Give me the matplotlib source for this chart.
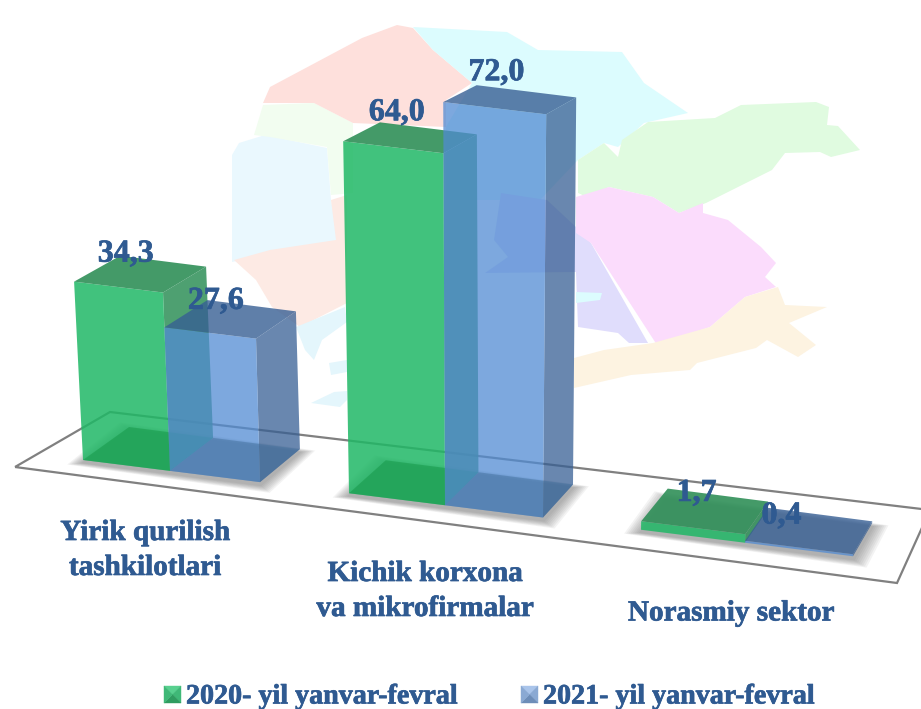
#!/usr/bin/env python3
"""Pseudo-3D bars over a faded map: construction output by enterprise group."""

import matplotlib
matplotlib.use("Agg")
import matplotlib.pyplot as plt
import matplotlib.patheffects as pe
from matplotlib.patches import Polygon

categories = ["Yirik qurilish\ntashkilotlari", "Kichik korxona\nva mikrofirmalar", "Norasmiy sektor"]
series_names = ["2020- yil yanvar-fevral", "2021- yil yanvar-fevral"]
values_2020 = [34.3, 64.0, 1.7]
values_2021 = [27.6, 72.0, 0.4]

# --- layout of the fake perspective, in picture pixels ---
LEFT_2020 = [83, 349, 641]
LEFT_2021 = [170, 445, 745]
RIGHT_2021 = [260, 543, 853]
UNIT_2020 = [5.2, 5.5, 5.0]   # px per value unit
UNIT_2021 = [5.2, 5.6, 5.0]
LABEL_POS = [(-15, -20), (-14, -25), (-9, -18)]
LABEL_POS_2021 = [(-15, -18), (-14, -27), (-28, -15)]
CAT_POS = [(145, 550), (425, 591), (731, 613)]
TEXT = "#2f5a91"
SERIF = "Liberation Serif"

# background map regions (decoration only)
MAP = [
    ("#eaf8fe", [(232, 262), (232, 155), (239, 143), (265, 135), (327, 148), (331, 200), (338, 240), (290, 250)]),
    ("#fdeae4", [(234, 260), (270, 250), (336, 240), (331, 200), (347, 195), (347, 303), (300, 327), (272, 307), (256, 280)]),
    ("#f2fdf0", [(263, 105), (314, 103), (353, 123), (353, 193), (331, 195), (327, 147), (270, 137), (254, 135)]),
    ("#fee0dc", [(263, 103), (270, 87), (362, 38), (397, 25), (413, 28), (433, 50), (472, 83), (446, 100), (446, 127), (353, 123), (314, 103)]),
    ("#dcfcfe", [(413, 27), (507, 32), (538, 50), (622, 52), (644, 83), (688, 113), (644, 123), (618, 147), (604, 143), (578, 160), (540, 200), (446, 200), (446, 127), (472, 83), (433, 50)]),
    ("#e0fbe0", [(578, 160), (604, 143), (618, 157), (622, 140), (648, 122), (715, 118), (741, 105), (816, 102), (829, 107), (827, 125), (838, 126), (860, 150), (831, 157), (820, 152), (785, 153), (772, 170), (706, 203), (679, 213), (653, 197), (609, 187), (587, 197), (578, 193)]),
    ("#e0ddfc", [(501, 193), (547, 200), (576, 227), (591, 243), (648, 343), (629, 343), (618, 333), (578, 327), (576, 272), (485, 273), (508, 257), (494, 240)]),
    ("#fbdcfc", [(576, 197), (609, 187), (653, 197), (679, 213), (703, 203), (703, 213), (728, 220), (761, 247), (776, 263), (765, 277), (776, 287), (745, 297), (710, 327), (657, 345), (591, 243), (576, 233)]),
    ("#dcfcfe", [(576, 292), (602, 293), (600, 300), (576, 303)]),
    ("#fdf3e1", [(574, 358), (604, 350), (653, 343), (710, 327), (745, 297), (778, 287), (785, 305), (827, 307), (789, 323), (816, 345), (798, 357), (767, 340), (756, 348), (697, 363), (690, 370), (631, 375), (574, 388)]),
    ("#e4f6fc", [(296, 327), (345, 307), (347, 322), (322, 340), (314, 360), (305, 350)]),
    ("#e4f6fc", [(329, 363), (347, 360), (347, 372), (331, 375)]),
    ("#e4f6fc", [(311, 403), (334, 392), (347, 391), (347, 400), (340, 407)]),
]
FLOOR = [(15, 467), (110, 412), (930, 510), (897, 583)]

GREEN = {"front": (32 / 255, 184 / 255, 102 / 255), "side": "#2f8f58", "top": "#2f8f58",
         "floor": "#149646", "alpha": 0.85}
BLUE = {"front": "#518bd3", "side": "#375f94", "top": "#375f94",
        "floor": "#46739f", "alpha": 0.75}
HEAVY = [pe.withStroke(linewidth=0.5, foreground=TEXT)]


def project(x0, h=0.0, d=0.0):
    """Bar corner -> pixel: x0 on the front floor line, height h px, depth d 0..1."""
    y0 = 460 + 0.125 * (x0 - 83)
    px = x0 + (x0 - 480) * 0.000126 * h + d * (49 - 0.035 * x0)
    py = y0 - h + d * (-33 + 0.04 * h)
    return px, py


def draw_box(ax, left, right, h, style):
    a = style["alpha"]

    def face(pts, color, alpha):
        ax.add_patch(Polygon(pts, closed=True, facecolor=color, edgecolor="none", alpha=alpha))

    side = [project(right, 0), project(right, 0, 1), project(right, h, 1), project(right, h)]
    front = [project(left, 0), project(right, 0), project(right, h), project(left, h)]
    top = [project(left, h), project(right, h), project(right, h, 1), project(left, h, 1)]
    bottom = [project(left, 0), project(right, 0), project(right, 0, 1), project(left, 0, 1)]
    face(side, style["side"], a)
    face(front, style["front"], a)
    if h > 20:  # flat bars show no floor through them
        face(bottom, style["floor"], 0.5)
    face(top, style["top"], a + 0.05)


def draw_shadow(ax, left, right):
    pts = [project(left, 0), project(right, 0), project(right, 0, 1), project(left, 0, 1)]
    cx = sum(p[0] for p in pts) / 4
    cy = sum(p[1] for p in pts) / 4
    for i in range(8, 0, -1):
        sx = 1 + i * 0.018
        sy = 1 + i * 0.035
        grown = [(cx + (x - cx) * sx, cy + 3 + (y - cy) * sy) for x, y in pts]
        ax.add_patch(Polygon(grown, closed=True, facecolor="#555555", edgecolor="none", alpha=0.07))


def draw_swatch(ax, x, y, size, light, mid, dark):
    c = (x + size / 2, y + size / 2)
    a, b, e, f = (x, y), (x + size, y), (x + size, y + size), (x, y + size)
    for pts, col in [((a, b, c), light), ((b, e, c), mid), ((e, f, c), dark), ((f, a, c), mid)]:
        ax.add_patch(Polygon(pts, closed=True, facecolor=col, edgecolor=col, lw=0.3))


def label(ax, x, y, s, size, **kw):
    ax.text(x, y, s, family=SERIF, weight="bold", fontsize=size, color=TEXT,
            path_effects=HEAVY, **kw)


def main():
    fig = plt.figure(figsize=(9.21, 7.09), dpi=100)
    ax = fig.add_axes([0, 0, 1, 1])
    ax.set_xlim(0, 921)
    ax.set_ylim(709, 0)
    ax.axis("off")

    for color, pts in MAP:
        ax.add_patch(Polygon(pts, closed=True, facecolor=color, edgecolor="none"))
    ax.add_patch(Polygon(FLOOR, closed=True, facecolor="none", edgecolor="#808080", lw=1.6))

    for i in range(len(categories)):
        draw_shadow(ax, LEFT_2020[i], RIGHT_2021[i])
    for i in range(len(categories)):
        h20 = values_2020[i] * UNIT_2020[i]
        h21 = values_2021[i] * UNIT_2021[i]
        draw_box(ax, LEFT_2020[i], LEFT_2021[i], h20, GREEN)
        draw_box(ax, LEFT_2021[i], RIGHT_2021[i], h21, BLUE)

        # value labels sit over the top face, decimal comma as in the original
        x, y = project((LEFT_2020[i] + LEFT_2021[i]) / 2, h20, 0.5)
        label(ax, x + LABEL_POS[i][0], y + LABEL_POS[i][1], f"{values_2020[i]:.1f}".replace(".", ","),
              23, ha="center", va="center")
        x, y = project((LEFT_2021[i] + RIGHT_2021[i]) / 2, h21, 0.5)
        label(ax, x + LABEL_POS_2021[i][0], y + LABEL_POS_2021[i][1], f"{values_2021[i]:.1f}".replace(".", ","),
              23, ha="center", va="center")

        label(ax, CAT_POS[i][0], CAT_POS[i][1], categories[i], 21, ha="center", va="center",
              linespacing=1.38)

    # legend, hand placed
    draw_swatch(ax, 164, 686, 17, "#58d08f", "#3fb877", "#2f9c60")
    label(ax, 186, 697, series_names[0], 20.2, ha="left", va="center")
    draw_swatch(ax, 521, 686, 17, "#a9c4ea", "#8aa9d3", "#6d8db8")
    label(ax, 543, 697, series_names[1], 20.2, ha="left", va="center")

    fig.savefig("out.png", dpi=100)
    plt.close(fig)


if __name__ == "__main__":
    main()
